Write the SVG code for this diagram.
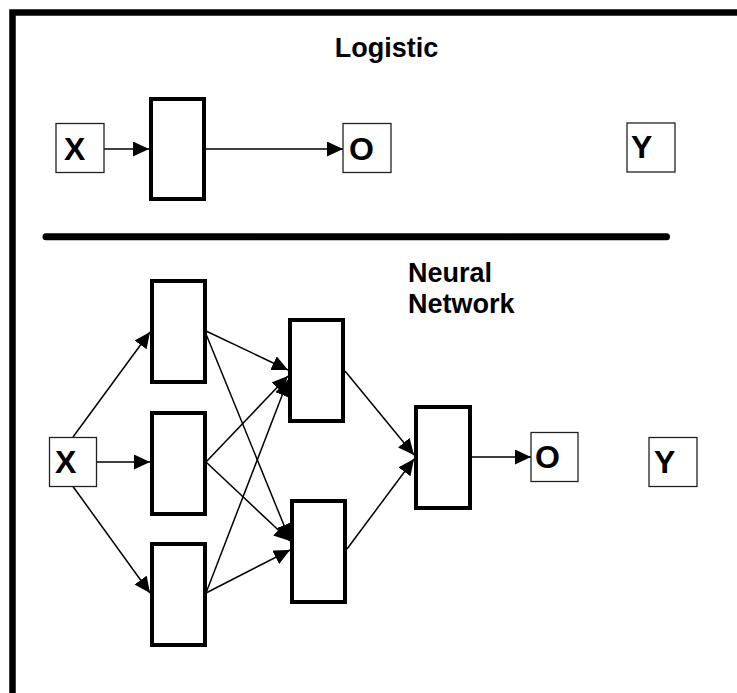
<svg xmlns="http://www.w3.org/2000/svg" width="737" height="693" viewBox="0 0 737 693">
<defs>
<marker id="ah" markerUnits="userSpaceOnUse" markerWidth="18" markerHeight="16" refX="16" refY="7.5" orient="auto">
<path d="M0,0 L16,7.5 L0,15 Z" fill="#000"/>
</marker>
<style>
.lbl{fill:#fff;stroke:#222;stroke-width:1.3}
.unit{fill:#fff;stroke:#000;stroke-width:4}
.t{font-family:"Liberation Sans",Arial,sans-serif;font-weight:bold;font-size:27px;fill:#000}
.big{font-size:32px}
.e{stroke:#000;stroke-width:1.5;fill:none;marker-end:url(#ah)}
</style>
</defs>
<rect width="737" height="693" fill="#fff"/>
<rect id="frame" x="12.5" y="12.5" width="800" height="800" fill="none" stroke="#000" stroke-width="6.5"/>
<line id="separator" x1="46" y1="236.7" x2="666.5" y2="236.7" stroke="#000" stroke-width="7" stroke-linecap="round"/>
<text id="title-logistic" class="t" x="386.5" y="57" text-anchor="middle">Logistic</text>
<text id="title-nn" class="t"><tspan x="408" y="282">Neural</tspan><tspan x="408" y="313">Network</tspan></text>

<g id="connectors">
<line class="e" x1="104" y1="149" x2="149" y2="149"/>
<line class="e" x1="206" y1="149" x2="343" y2="149"/>
<line class="e" x1="73" y1="437" x2="150" y2="332"/>
<line class="e" x1="96.5" y1="462" x2="150" y2="462"/>
<line class="e" x1="73" y1="486.5" x2="150" y2="593"/>
<line class="e" x1="206" y1="331" x2="288" y2="370"/>
<line class="e" x1="206" y1="334" x2="290" y2="540"/>
<line class="e" x1="206" y1="462" x2="288" y2="376"/>
<line class="e" x1="206" y1="462" x2="290" y2="541"/>
<line class="e" x1="206" y1="593" x2="288" y2="380"/>
<line class="e" x1="206" y1="593" x2="290" y2="550"/>
<line class="e" x1="345" y1="371" x2="414" y2="455"/>
<line class="e" x1="347" y1="549" x2="414" y2="459"/>
<line class="e" x1="472" y1="457" x2="531" y2="457"/>
</g>

<g id="log-x"><rect class="lbl" x="56" y="123.5" width="48" height="49"/><text class="t big" x="64" y="160">X</text></g>
<g id="log-unit"><rect class="unit" x="151" y="99" width="53" height="100"/></g>
<g id="log-o"><rect class="lbl" x="343" y="123.5" width="48" height="49"/><text class="t big" x="349" y="160">O</text></g>
<g id="log-y"><rect class="lbl" x="627" y="123" width="48" height="49"/><text class="t big" x="631" y="158">Y</text></g>

<g id="nn-x"><rect class="lbl" x="49.5" y="437.5" width="47" height="49"/><text class="t big" x="55" y="473">X</text></g>
<g id="nn-h1a"><rect class="unit" x="152" y="281" width="53" height="101"/></g>
<g id="nn-h1b"><rect class="unit" x="152" y="413" width="53" height="101"/></g>
<g id="nn-h1c"><rect class="unit" x="152" y="544" width="53" height="101"/></g>
<g id="nn-h2a"><rect class="unit" x="290" y="320" width="53" height="101"/></g>
<g id="nn-h2b"><rect class="unit" x="292" y="501" width="53" height="101"/></g>
<g id="nn-out"><rect class="unit" x="416" y="407" width="54" height="101"/></g>
<g id="nn-o"><rect class="lbl" x="531" y="432.5" width="47" height="49"/><text class="t big" x="535" y="468">O</text></g>
<g id="nn-y"><rect class="lbl" x="649" y="437.5" width="48" height="49"/><text class="t big" x="654" y="473">Y</text></g>
</svg>
